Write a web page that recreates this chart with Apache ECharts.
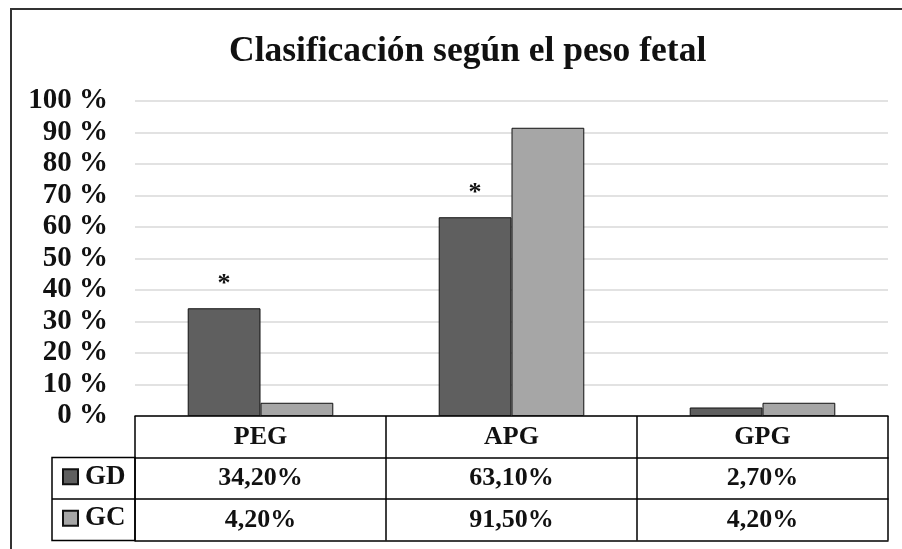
<!DOCTYPE html>
<html>
<head>
<meta charset="utf-8">
<script src="https://cdn.jsdelivr.net/npm/echarts@6/dist/echarts.min.js"></script>
<style>
  html, body { margin: 0; padding: 0; background: #fff; }
  #chart { width: 902px; height: 549px; }
</style>
</head>
<body>
<div id="chart"></div>
<script>
const categories = ['PEG', 'APG', 'GPG'];
const seriesNames = ['GD', 'GC'];
const gdValues = [34.2, 63.1, 2.7];
const gcValues = [4.2, 91.5, 4.2];
const gdSignificant = [true, true, false];
const yTicks = { min: 0, max: 100, interval: 10 };

const FONT = '"Liberation Serif", "Times New Roman", serif';
const ROW = 41.5;
const GRID = { left: 135, right: 14, top: 101, bottom: 133 };
const TABLE_TOP = 549 - GRID.bottom;
const LEGEND_LEFT = 52;

const fmtPct = v => v.toFixed(2).replace('.', ',') + '%';

const chart = echarts.init(document.getElementById('chart'));

const tableAxis = (offset, labels, showLabel) => ({
  type: 'category',
  data: categories,
  position: 'bottom',
  offset: offset,
  axisLine: { show: true, lineStyle: { color: '#000', width: 1.5 } },
  axisTick: { show: false },
  splitLine: { show: false },
  axisLabel: {
    show: showLabel,
    margin: 8,
    fontFamily: FONT,
    fontWeight: 'bold',
    fontSize: 26,
    color: '#111',
    formatter: (v, i) => labels ? labels[i] : v
  }
});

const legendRow = (name, row) => ({
  data: [name],
  left: LEGEND_LEFT + 10,
  top: TABLE_TOP + ROW * row + ROW / 2 - 15,
  padding: 0,
  icon: 'rect',
  itemWidth: 15,
  itemHeight: 15,
  itemGap: 0,
  textStyle: { fontFamily: FONT, fontWeight: 'bold', fontSize: 27, color: '#111', padding: [0, 0, 0, 2] }
});

const option = {
  backgroundColor: '#fff',
  animation: false,
  title: {
    text: 'Clasificación según el peso fetal',
    left: 224,
    top: 29,
    textStyle: { fontFamily: FONT, fontWeight: 'bold', fontSize: 35.5, color: '#111' }
  },
  legend: [legendRow('GD', 1), legendRow('GC', 2)],
  grid: GRID,
  xAxis: [
    Object.assign(tableAxis(0, null, true), {
      axisTick: { show: true, length: ROW * 3, inside: false, lineStyle: { color: '#000', width: 1.5 } }
    }),
    tableAxis(ROW, gdValues.map(fmtPct), true),
    tableAxis(ROW * 2, gcValues.map(fmtPct), true),
    tableAxis(ROW * 3, null, false)
  ],
  yAxis: {
    type: 'value',
    min: yTicks.min,
    max: yTicks.max,
    interval: yTicks.interval,
    axisLine: { show: false },
    axisTick: { show: false },
    splitLine: { lineStyle: { color: '#d9d9d9', width: 1.5 } },
    axisLabel: {
      margin: 27,
      fontFamily: FONT,
      fontWeight: 'bold',
      fontSize: 29,
      color: '#111',
      formatter: '{value} %'
    }
  },
  series: [
    {
      name: 'GD',
      type: 'bar',
      barGap: '0%',
      barCategoryGap: '42%',
      itemStyle: { color: '#5f5f5f', borderColor: '#111', borderWidth: 1 },
      data: gdValues.map((v, i) => ({
        value: v,
        label: {
          show: gdSignificant[i],
          position: 'top',
          distance: 11,
          formatter: '*',
          fontFamily: FONT,
          fontWeight: 'bold',
          fontSize: 26,
          color: '#111'
        }
      }))
    },
    {
      name: 'GC',
      type: 'bar',
      itemStyle: { color: '#a6a6a6', borderColor: '#111', borderWidth: 1 },
      data: gcValues
    }
  ],
  graphic: [
    {
      type: 'rect',
      silent: true,
      shape: { x: 11, y: 9, width: 900, height: 560 },
      style: { fill: 'none', stroke: '#333', lineWidth: 2 }
    },
    {
      type: 'rect',
      silent: true,
      shape: { x: LEGEND_LEFT, y: TABLE_TOP + ROW, width: GRID.left - LEGEND_LEFT, height: ROW * 2 },
      style: { fill: 'none', stroke: '#000', lineWidth: 1.5 }
    },
    {
      type: 'line',
      silent: true,
      shape: { x1: LEGEND_LEFT, y1: TABLE_TOP + ROW * 2, x2: GRID.left, y2: TABLE_TOP + ROW * 2 },
      style: { stroke: '#000', lineWidth: 1.5 }
    }
  ]
};

chart.setOption(option);
</script>
</body>
</html>
